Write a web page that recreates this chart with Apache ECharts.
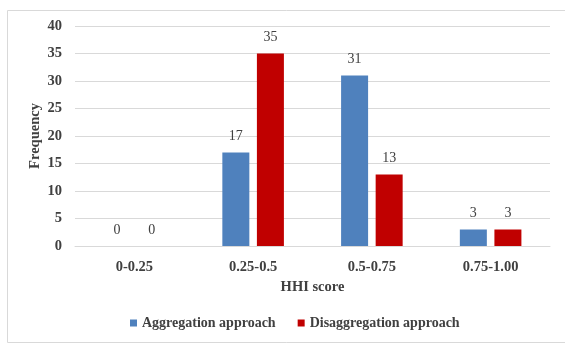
<!DOCTYPE html>
<html>
<head>
<meta charset="utf-8">
<script src="https://cdn.jsdelivr.net/npm/echarts@6/dist/echarts.min.js"></script>
<style>
  html, body { margin: 0; padding: 0; background: #fff; }
  #chart { width: 565px; height: 344px; }
</style>
</head>
<body>
<div id="chart"></div>
<script>
const categories = ['0-0.25', '0.25-0.5', '0.5-0.75', '0.75-1.00'];
const aggregation = [0, 17, 31, 3];
const disaggregation = [0, 35, 13, 3];
const seriesNames = ['Aggregation approach', 'Disaggregation approach'];

const serif = '"Liberation Serif", "Times New Roman", serif';
const textColor = '#404040';
const chart = echarts.init(document.getElementById('chart'));

const labelStyle = {
  show: true, position: 'top', distance: 9,
  fontFamily: serif, fontSize: 14, color: textColor
};
const boldText = { fontFamily: serif, fontSize: 14.5, fontWeight: 'bold', color: textColor };

chart.setOption({
  animation: false,
  textStyle: { fontFamily: serif },
  graphic: [{
    type: 'rect',
    shape: { x: 7.5, y: 10.5, width: 600, height: 332 },
    style: { fill: 'none', stroke: '#d9d9d9', lineWidth: 1 }
  }],
  grid: { left: 75, right: 15, top: 26, bottom: 98 },
  legend: {
    bottom: 9, left: 125,
    itemWidth: 7, itemHeight: 7, itemGap: 22,
    icon: 'rect',
    textStyle: Object.assign({}, boldText, { fontSize: 14 }),
    data: seriesNames
  },
  xAxis: {
    type: 'category', data: categories,
    name: 'HHI score', nameLocation: 'middle', nameGap: 34,
    nameTextStyle: boldText,
    axisLine: { lineStyle: { color: '#d9d9d9' } },
    axisTick: { show: false },
    axisLabel: Object.assign({ margin: 14 }, boldText)
  },
  yAxis: {
    type: 'value', min: 0, max: 40, interval: 5,
    name: 'Frequency', nameLocation: 'middle', nameGap: 32, nameRotate: 90,
    nameMoveOverlap: false,
    nameTextStyle: boldText,
    axisLine: { show: false }, axisTick: { show: false },
    splitLine: { lineStyle: { color: '#d9d9d9' } },
    axisLabel: Object.assign({ margin: 13 }, boldText)
  },
  series: [
    {
      name: seriesNames[0], type: 'bar', data: aggregation,
      barWidth: 27, barGap: '28%',
      itemStyle: { color: '#4F81BD' }, label: labelStyle
    },
    {
      name: seriesNames[1], type: 'bar', data: disaggregation,
      barWidth: 27,
      itemStyle: { color: '#C00000' }, label: labelStyle
    }
  ]
});
</script>
</body>
</html>
